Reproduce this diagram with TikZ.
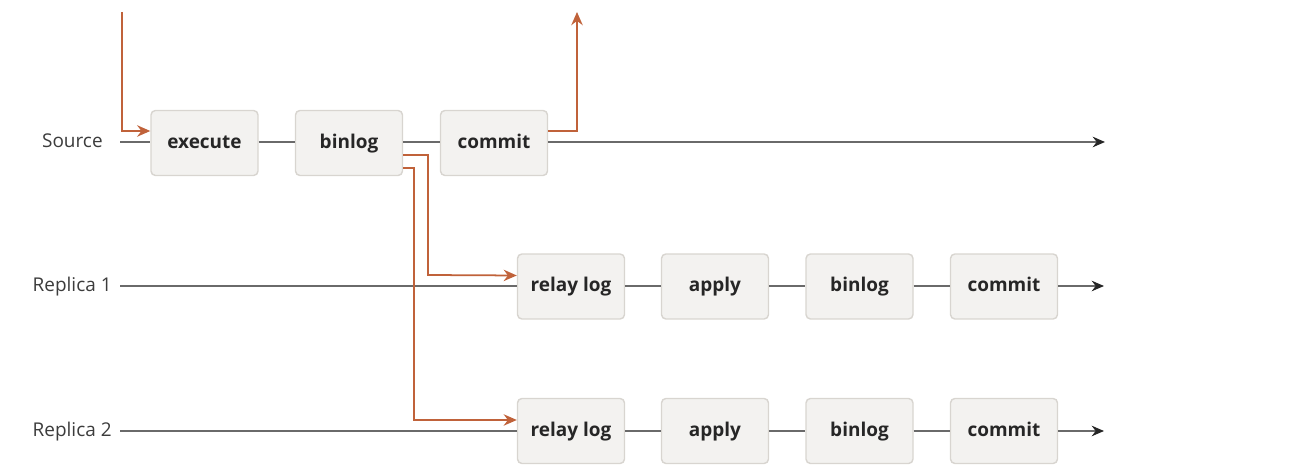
\documentclass[tikz,border=0pt]{standalone}
\usepackage{fontspec}
\setmainfont{Open Sans}
\usetikzlibrary{arrows.meta}
\definecolor{boxfill}{HTML}{F3F2F0}
\definecolor{boxline}{HTML}{D8D5D0}
\definecolor{flow}{HTML}{C0623A}
\definecolor{axis}{HTML}{6A6A6A}
\definecolor{txt}{HTML}{262626}
\tikzset{
  stepbox/.style={draw=boxline, fill=boxfill, line width=0.8pt, rounded corners=2.5pt,
    minimum width=2.14cm, minimum height=1.3cm, inner sep=0pt,
    text height=8pt, text depth=2.2pt,
    font=\fontsize{10.8pt}{12pt}\selectfont\bfseries, text=txt},
  lanelabel/.style={font=\fontsize{10.8pt}{12pt}\selectfont, text=txt!90, anchor=east, inner sep=0pt,
    text height=8pt, text depth=2.2pt},
  axisline/.style={draw=axis, line width=1pt},
  axisarrow/.style={axisline, -{Stealth[length=7pt,width=6pt,color=black!85]}},
  flowline/.style={draw=flow, line width=1pt},
  flowarrow/.style={flowline, -{Stealth[length=7.5pt,width=6.5pt]}},
}
\begin{document}
\begin{tikzpicture}[x=0.02cm,y=-0.02cm]
\useasboundingbox (0,0) rectangle (1291,475);
% lane labels
\node[lanelabel] (lsrc) at (103,142) {Source};
\node[lanelabel] (lr1) at (112,286) {Replica 1};
\node[lanelabel] (lr2) at (112,431) {Replica 2};
% start coordinates
\coordinate (s0) at (120,142);
\coordinate (r10) at (120,286);
\coordinate (r20) at (120,431);
\coordinate (send) at (1105,142);
\coordinate (r1end) at (1104,286);
\coordinate (r2end) at (1104,431);
% source boxes
\node[stepbox] (sexec) at (204.5,143) {execute};
\node[stepbox] (sbin) at (349,143) {binlog};
\node[stepbox] (scom) at (494,143) {commit};
% replica 1
\node[stepbox] (ar) at (571,286.5) {relay log};
\node[stepbox] (aa) at (715,286.5) {apply};
\node[stepbox] (ab) at (859.5,286.5) {binlog};
\node[stepbox] (ac) at (1004,286.5) {commit};
% replica 2
\node[stepbox] (br) at (571,431) {relay log};
\node[stepbox] (ba) at (715,431) {apply};
\node[stepbox] (bb) at (859.5,431) {binlog};
\node[stepbox] (bc) at (1004,431) {commit};
% axis lines
\draw[axisline] (s0) -- (sexec.west |- s0);
\draw[axisline] (sexec.east |- s0) -- (sbin.west |- s0);
\draw[axisline] (sbin.east |- s0) -- (scom.west |- s0);
\draw[axisarrow] (scom.east |- s0) -- (send);
\draw[axisline] (r10) -- (ar.west |- r10);
\draw[axisline] (ar.east |- r10) -- (aa.west |- r10);
\draw[axisline] (aa.east |- r10) -- (ab.west |- r10);
\draw[axisline] (ab.east |- r10) -- (ac.west |- r10);
\draw[axisarrow] (ac.east |- r10) -- (r1end);
\draw[axisline] (r20) -- (br.west |- r20);
\draw[axisline] (br.east |- r20) -- (ba.west |- r20);
\draw[axisline] (ba.east |- r20) -- (bb.west |- r20);
\draw[axisline] (bb.east |- r20) -- (bc.west |- r20);
\draw[axisarrow] (bc.east |- r20) -- (r2end);
% flow arrows
\coordinate (in0) at (122,12);
\coordinate (out1) at (577,12);
\draw[flowarrow] (in0) |- ([yshift=12*0.02cm]sexec.west);
\draw[flowarrow] ([yshift=12*0.02cm]scom.east) -| (out1);
\draw[flowarrow] ([yshift=-12*0.02cm]sbin.east) -| (428,275) -- ([yshift=11*0.02cm]ar.west);
\draw[flowarrow] ([yshift=-25*0.02cm]sbin.east) -| (414,420) -- ([yshift=11*0.02cm]br.west);
\end{tikzpicture}
\end{document}
